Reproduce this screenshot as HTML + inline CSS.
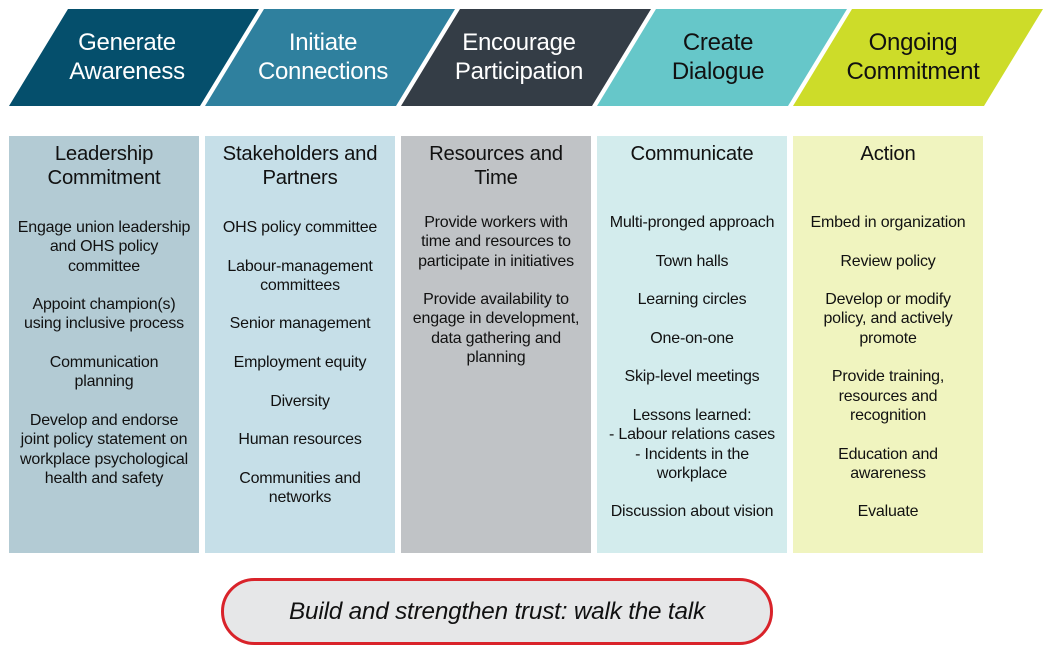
<!DOCTYPE html>
<html><head><meta charset="utf-8"><style>
body{margin:0;width:1050px;height:658px;background:#fff;position:relative;overflow:hidden;font-family:"Liberation Sans",Arial,sans-serif}
.hd{position:absolute;top:28px;width:196px;text-align:center;color:#fff;font-size:24px;line-height:29px;letter-spacing:-0.3px}
.col{position:absolute;top:136px;width:190px;height:417px;text-align:center;color:#111}
.t{position:absolute;left:0;right:0;font-size:20.3px;line-height:24px;letter-spacing:-0.2px}
.b{position:absolute;left:-4px;right:-4px;font-size:16px;line-height:19.3px;letter-spacing:-0.2px}
.b p{margin:0 0 19.3px 0}
</style></head><body>
<svg width="1050" height="120" style="position:absolute;left:0;top:0">
<polygon points="68,9 259,9 200,106 9,106" fill="#054f6c"/>
<polygon points="264,9 455,9 396,106 205,106" fill="#2f809e"/>
<polygon points="460,9 651,9 592,106 401,106" fill="#343d46"/>
<polygon points="656,9 847,9 788,106 597,106" fill="#66c7c9"/>
<polygon points="852,9 1043,9 984,106 793,106" fill="#cddc29"/>
</svg>
<div class="hd" style="left:29px">Generate<br>Awareness</div>
<div class="hd" style="left:225px">Initiate<br>Connections</div>
<div class="hd" style="left:421px">Encourage<br>Participation</div>
<div class="hd" style="left:620px;color:#111">Create<br>Dialogue</div>
<div class="hd" style="left:815px;color:#111">Ongoing<br>Commitment</div>

<div class="col" style="left:9px;background:#b3cbd4"><div class="t" style="top:6px">Leadership<br>Commitment</div>
<div class="b" style="top:82px"><p>Engage union leadership<br>and OHS policy<br>committee</p><p>Appoint champion(s)<br>using inclusive process</p><p>Communication<br>planning</p><p>Develop and endorse<br>joint policy statement on<br>workplace psychological<br>health and safety</p></div></div>

<div class="col" style="left:205px;background:#c6dfe8"><div class="t" style="top:6px">Stakeholders and<br>Partners</div>
<div class="b" style="top:82px"><p>OHS policy committee</p><p>Labour-management<br>committees</p><p>Senior management</p><p>Employment equity</p><p>Diversity</p><p>Human resources</p><p>Communities and<br>networks</p></div></div>

<div class="col" style="left:401px;background:#c0c3c6"><div class="t" style="top:6px">Resources and<br>Time</div>
<div class="b" style="top:77px"><p>Provide workers with<br>time and resources to<br>participate in initiatives</p><p>Provide availability to<br>engage in development,<br>data gathering and<br>planning</p></div></div>

<div class="col" style="left:597px;background:#d3eced"><div class="t" style="top:6px">Communicate</div>
<div class="b" style="top:77px"><p>Multi-pronged approach</p><p>Town halls</p><p>Learning circles</p><p>One-on-one</p><p>Skip-level meetings</p><p>Lessons learned:<br>- Labour relations cases<br>- Incidents in the<br>workplace</p><p>Discussion about vision</p></div></div>

<div class="col" style="left:793px;background:#f0f4bf"><div class="t" style="top:6px">Action</div>
<div class="b" style="top:77px"><p>Embed in organization</p><p>Review policy</p><p>Develop or modify<br>policy, and actively<br>promote</p><p>Provide training,<br>resources and<br>recognition</p><p>Education and<br>awareness</p><p>Evaluate</p></div></div>

<div style="position:absolute;left:221px;top:578px;width:546px;height:61px;border:3px solid #d9232a;border-radius:34px;background:#e6e7e8;text-align:center;line-height:61px;font-size:24.3px;font-style:italic;color:#111;letter-spacing:-0.2px">Build and strengthen trust: walk the talk</div>
</body></html>
